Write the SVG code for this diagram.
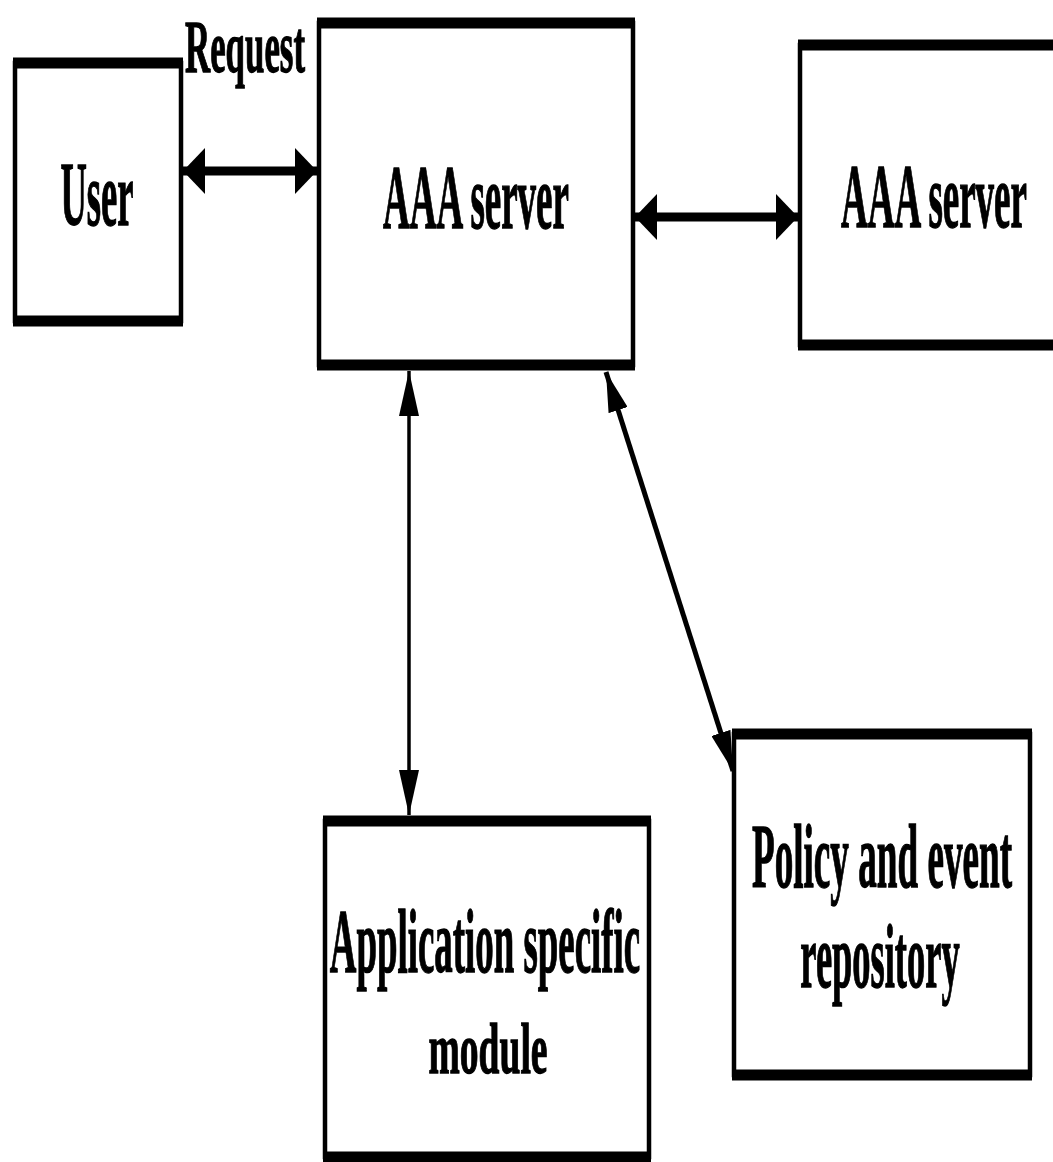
<svg xmlns="http://www.w3.org/2000/svg" width="1053" height="1162" viewBox="0 0 1053 1162">
<style>
.box{fill:#fff;stroke:#000;stroke-width:4.5}
.hedge{stroke:#000;stroke-width:11;fill:none}
.lbl{font-family:"Liberation Serif","Times New Roman",serif;font-weight:bold;font-size:90px;fill:#000;stroke:#000;stroke-width:1;vector-effect:non-scaling-stroke;text-anchor:middle}
.conn{stroke:#000;fill:none}
</style>
<defs>
<marker id="ah" markerUnits="userSpaceOnUse" viewBox="0 0 22 46" markerWidth="22" markerHeight="46" refX="22" refY="23" orient="auto-start-reverse"><path d="M0,0 L22,23 L0,46 z" fill="#000"/></marker>
<marker id="av" markerUnits="userSpaceOnUse" viewBox="0 0 45 20" markerWidth="45" markerHeight="20" refX="45" refY="10" orient="auto-start-reverse"><path d="M0,0 L45,10 L0,20 z" fill="#000"/></marker>
<marker id="ad" markerUnits="userSpaceOnUse" viewBox="0 0 40 20" markerWidth="40" markerHeight="20" refX="40" refY="10" orient="auto-start-reverse"><path d="M0,0 L40,10 L0,20 z" fill="#000"/></marker>
</defs>
<rect width="1053" height="1162" fill="#fff"/>
<g id="user">
<rect class="box" x="15" y="63" width="166" height="258"/>
<path class="hedge" d="M13,63 H183 M13,321 H183"/>
<text class="lbl" transform="translate(97,225) scale(0.406,1)">User</text>
</g>
<g id="aaa1">
<rect class="box" x="319" y="23" width="314" height="342"/>
<path class="hedge" d="M317,23 H635 M317,365 H635"/>
<text class="lbl" transform="translate(476,228) scale(0.411,1)">AAA server</text>
</g>
<g id="aaa2">
<rect class="box" x="800" y="45" width="260" height="300"/>
<path class="hedge" d="M798,45 H1060 M798,345 H1060"/>
<text class="lbl" transform="translate(934,227) scale(0.411,1)">AAA server</text>
</g>
<g id="app">
<rect class="box" x="325" y="821" width="324" height="336"/>
<path class="hedge" d="M323,821 H651 M323,1157 H651"/>
<text class="lbl" transform="translate(485,972) scale(0.41,1)">Application specific</text>
<text class="lbl" transform="translate(488,1073) scale(0.522,1)" style="font-size:72px">module</text>
</g>
<g id="policy">
<rect class="box" x="734" y="734" width="296" height="341"/>
<path class="hedge" d="M732,734 H1032 M732,1075 H1032"/>
<text class="lbl" transform="translate(882,887) scale(0.413,1)">Policy and event</text>
<text class="lbl" transform="translate(880,987) scale(0.405,1)">repository</text>
</g>
<g id="request-label">
<text class="lbl" transform="translate(245,72) scale(0.471,1)" style="font-size:74px">Request</text>
</g>
<g id="connectors">
<line class="conn" x1="183" y1="171" x2="317" y2="171" stroke-width="9" marker-start="url(#ah)" marker-end="url(#ah)"/>
<line class="conn" x1="635" y1="217" x2="798" y2="217" stroke-width="9" marker-start="url(#ah)" marker-end="url(#ah)"/>
<line class="conn" x1="409" y1="371" x2="409" y2="815" stroke-width="3.5" marker-start="url(#av)" marker-end="url(#av)"/>
<line class="conn" x1="606" y1="372" x2="733" y2="771" stroke-width="5" marker-start="url(#ad)" marker-end="url(#ad)"/>
</g>
</svg>
